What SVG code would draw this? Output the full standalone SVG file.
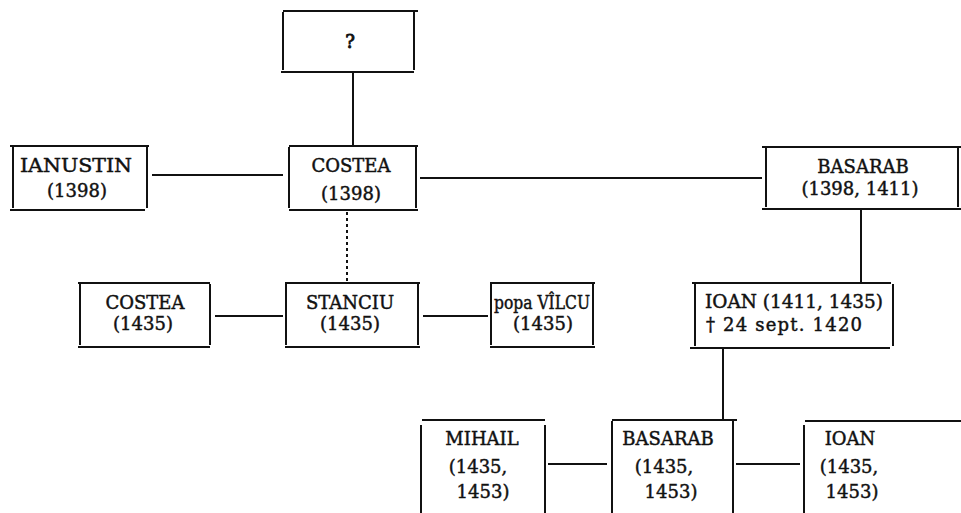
<svg xmlns="http://www.w3.org/2000/svg" width="961" height="513" viewBox="0 0 961 513">
<style>
.b{stroke:#111;stroke-width:2;fill:none}
.c{stroke:#111;stroke-width:2;fill:none}
.d{stroke:#111;stroke-width:2;fill:none;stroke-dasharray:3 3}
.t{font-family:"DejaVu Serif","Liberation Serif",serif;font-weight:normal;font-size:18px;fill:#111;stroke:#111;stroke-width:0.45;text-anchor:middle}
</style>
<rect width="961" height="513" fill="#fff"/>
<g id="connectors">
<path class="c" d="M353 72V145"/>
<path class="c" d="M152 175H283"/>
<path class="c" d="M420 178H762"/>
<path class="d" d="M347 212V282"/>
<path class="c" d="M861 210V282"/>
<path class="c" d="M215 316H283"/>
<path class="c" d="M423 316H488"/>
<path class="c" d="M723 348V420"/>
<path class="c" d="M548 464H607"/>
<path class="c" d="M736 464H800"/>
</g>
<g id="n-unknown">
<path class="b" d="M283 11H418M281 72H414M283 12V70M414 12V70"/>
<text class="t" x="350" y="48" style="stroke-width:0.9">?</text>
</g>
<g id="n-ianustin">
<path class="b" d="M10 146H149M10 210H145M13 147V208M147 147V208"/>
<text class="t" x="76" y="172" textLength="112" lengthAdjust="spacingAndGlyphs">IANUSTIN</text>
<text class="t" x="77" y="197">(1398)</text>
</g>
<g id="n-costea1398">
<path class="b" d="M289 146H418M289 210H418M289 147V208M416 147V208"/>
<text class="t" x="351" y="172">COSTEA</text>
<text class="t" x="351" y="200">(1398)</text>
</g>
<g id="n-basarab1398">
<path class="b" d="M762 147H961M762 209H961M766 148V207M958 148V207"/>
<text class="t" x="863" y="173">BASARAB</text>
<text class="t" x="860" y="195">(1398, 1411)</text>
</g>
<g id="n-costea1435">
<path class="b" d="M78 283H210M78 347H210M80 284V345M210 284V345"/>
<text class="t" x="145" y="309">COSTEA</text>
<text class="t" x="143" y="330">(1435)</text>
</g>
<g id="n-stanciu">
<path class="b" d="M285 283H420M285 347H420M286 284V345M418 284V345"/>
<text class="t" x="350" y="309">STANCIU</text>
<text class="t" x="350" y="330">(1435)</text>
</g>
<g id="n-popa-vilcu">
<path class="b" d="M490 283H595M490 347H595M491 284V345M593 284V345"/>
<text class="t" x="542" y="309" textLength="96" lengthAdjust="spacingAndGlyphs">popa VÎLCU</text>
<text class="t" x="543" y="330">(1435)</text>
</g>
<g id="n-ioan1411">
<path class="b" d="M692 283H891M690 348H890M695 284V346M893 284V346"/>
<text class="t" x="794" y="308" textLength="178" lengthAdjust="spacingAndGlyphs">IOAN (1411, 1435)</text>
<text class="t" x="784" y="331" textLength="156" lengthAdjust="spacing">† 24 sept. 1420</text>
</g>
<g id="n-mihail">
<path class="b" d="M422 420H545M421 425V513M545 425V513"/>
<text class="t" x="482" y="445">MIHAIL</text>
<text class="t" x="478" y="473">(1435,</text>
<text class="t" x="483" y="498">1453)</text>
</g>
<g id="n-basarab1435">
<path class="b" d="M612 420H737M612 421V513M733 421V513"/>
<text class="t" x="668" y="445">BASARAB</text>
<text class="t" x="664" y="473">(1435,</text>
<text class="t" x="671" y="498">1453)</text>
</g>
<g id="n-ioan1435">
<path class="b" d="M805 421H961M804 425V513"/>
<text class="t" x="850" y="445">IOAN</text>
<text class="t" x="849" y="473">(1435,</text>
<text class="t" x="852" y="498">1453)</text>
</g>
</svg>
